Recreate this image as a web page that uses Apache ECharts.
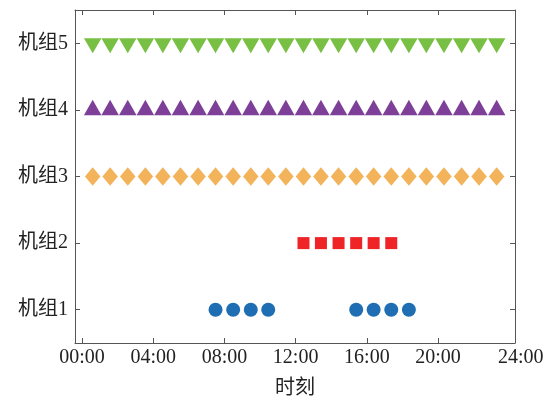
<!DOCTYPE html>
<html>
<head>
<meta charset="utf-8">
<style>
html,body{margin:0;padding:0;background:#fff;}
#chart{width:554px;height:404px;}
</style>
<script src="https://cdn.jsdelivr.net/npm/echarts@6/dist/echarts.min.js"></script>
</head>
<body>
<div id="chart"></div>
<script>
// Time points (hours) at which units are scheduled
const times = [0.6,1.58,2.57,3.56,4.54,5.53,6.52,7.5,8.49,9.48,10.46,11.45,12.44,13.42,14.41,15.4,16.38,17.37,18.36,19.34,20.33,21.32,22.3,23.29];
// Unit row labels (y)
const unitLabels = ['机组1','机组2','机组3','机组4','机组5'];
// Time points for each unit
const unit1Times = [7.5,8.49,9.48,10.46,15.4,16.38,17.37,18.36];
const unit2Times = [12.44,13.42,14.41,15.4,16.38,17.37];
const unit3Times = times;
const unit4Times = times;
const unit5Times = times;
// X tick labels
const xTickValues = [0,4,8,12,16,20,24];
const xTickLabels = ['00:00','04:00','08:00','12:00','16:00','20:00','24:00'];
const xAxisName = '时刻';

const FONT = '"Liberation Serif","Noto Sans CJK SC",serif';
const AX = '#555';

function mk(ts, row){ return ts.map(t => [t, row]); }

const chart = echarts.init(document.getElementById('chart'), null, {renderer:'canvas'});
const tickCommon = {show:true, inside:true, length:5, lineStyle:{color:AX, width:1}};
chart.setOption({
  animation:false,
  backgroundColor:'#fff',
  grid:{left:75, right:39, top:10, bottom:60, containLabel:false},
  xAxis:[{
    type:'value', min:-0.393, max:24.32, position:'bottom',
    name:xAxisName, nameLocation:'middle', nameGap:36,
    nameTextStyle:{fontFamily:FONT, fontSize:20, color:'#222'},
    axisLine:{show:true, onZero:false, lineStyle:{color:AX, width:1}},
    axisTick:Object.assign({customValues:xTickValues.slice(0,6)}, tickCommon),
    axisLabel:{show:true, customValues:xTickValues, margin:5, fontFamily:FONT, fontSize:20, color:'#222',
      formatter:function(v){ const i = xTickValues.indexOf(v); const s = xTickLabels[i]; return v===24 ? '{r|'+s+'}' : s; },
      rich:{r:{fontFamily:FONT, fontSize:20, color:'#222', padding:[0,0,0,23]}}},
    splitLine:{show:false}
  },{
    type:'value', min:-0.393, max:24.32, position:'top',
    axisLine:{show:true, onZero:false, lineStyle:{color:AX, width:1}},
    axisTick:Object.assign({customValues:xTickValues.slice(0,6)}, tickCommon),
    axisLabel:{show:false}, splitLine:{show:false}
  }],
  yAxis:[{
    type:'value', min:0.5, max:5.5, position:'left',
    axisLine:{show:true, onZero:false, lineStyle:{color:AX, width:1}},
    axisTick:Object.assign({customValues:[1,2,3,4,5]}, tickCommon),
    axisLabel:{show:true, customValues:[1,2,3,4,5], margin:7, fontFamily:FONT, fontSize:20, color:'#222',
      formatter:function(v){ return unitLabels[Math.round(v)-1]; }},
    splitLine:{show:false}
  },{
    type:'value', min:0.5, max:5.5, position:'right',
    axisLine:{show:true, onZero:false, lineStyle:{color:AX, width:1}},
    axisTick:Object.assign({customValues:[1,2,3,4,5]}, tickCommon),
    axisLabel:{show:false}, splitLine:{show:false}
  }],
  series:[
    {type:'scatter', data:mk(unit1Times,1), symbol:'circle', symbolSize:14, itemStyle:{color:'#1F6EB3', opacity:1}},
    {type:'scatter', data:mk(unit2Times,2), symbol:'rect', symbolSize:12, itemStyle:{color:'#EE2427', opacity:1}},
    {type:'scatter', data:mk(unit3Times,3), symbol:'diamond', symbolSize:[15.5,18.5], itemStyle:{color:'#F2B35A', opacity:1}},
    {type:'scatter', data:mk(unit4Times,4), symbol:'triangle', symbolSize:[17.5,15.3], symbolOffset:[0,-2.4], itemStyle:{color:'#7D3F98', opacity:1}},
    {type:'scatter', data:mk(unit5Times,5), symbol:'triangle', symbolRotate:180, symbolSize:[17.5,15], symbolOffset:[0,2.5], itemStyle:{color:'#77C043', opacity:1}}
  ]
});
</script>
</body>
</html>
